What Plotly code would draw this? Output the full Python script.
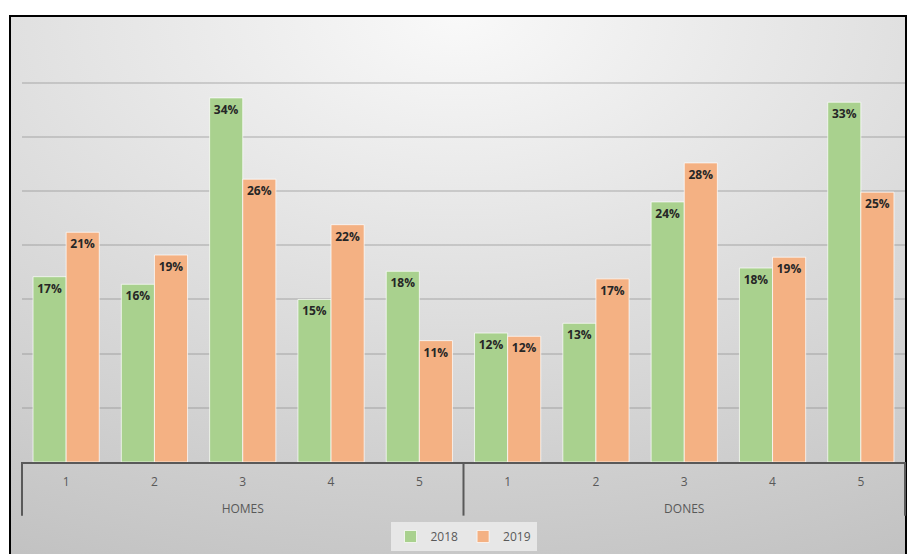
import base64
import plotly.graph_objects as go

groups = ["HOMES"] * 5 + ["DONES"] * 5
items = ["1", "2", "3", "4", "5"] * 2
share_2018 = [0.171, 0.164, 0.336, 0.150, 0.176, 0.119, 0.128, 0.240, 0.179, 0.332]
share_2019 = [0.212, 0.191, 0.261, 0.219, 0.112, 0.116, 0.169, 0.276, 0.189, 0.249]

W, H = 908, 554
ML, MR, MT, MB = 22, 3, 28, 89
pw, ph = W - ML - MR, H - MT - MB

# radial grey background like the Excel chart area
svg = ('<svg xmlns="http://www.w3.org/2000/svg" width="900" height="540" preserveAspectRatio="none">'
       '<defs><radialGradient id="g" cx="50%" cy="0%" r="110%" fx="50%" fy="0%">'
       '<stop offset="0" stop-color="#f9f9f9"/><stop offset="1" stop-color="#c2c2c2"/>'
       '</radialGradient></defs><rect width="100%" height="100%" fill="url(#g)"/></svg>')
bg_src = "data:image/svg+xml;base64," + base64.b64encode(svg.encode()).decode()

# chart-area box in paper units
bx0 = (10 - ML) / pw
bx1 = (906 - ML) / pw
by1 = (H - MB - 16) / ph
by0 = (H - MB - 566) / ph
# bracket lines under the category axis (Excel style)
dy = -54 / ph
brackets = [dict(type="line", xref="paper", yref="paper", x0=xx, x1=xx, y0=0, y1=dy,
                 line=dict(color="#595959", width=2)) for xx in (0, 0.5, 1)]

# tall invisible chars make the label box deeper so the group row sits lower
pad = "<span style='font-size:24px'>\u00a0</span>"
item_text = [pad + i + pad for i in items]

fig = go.Figure()
for name, vals, col in [("2018", share_2018, "#a9d18e"), ("2019", share_2019, "#f4b183")]:
    fig.add_trace(go.Bar(
        x=[groups, item_text], y=vals, name=name,
        marker=dict(color=col, line=dict(color="rgba(255,255,255,0.7)", width=1)),
        texttemplate="%{y:.0%}", textposition="inside", insidetextanchor="end",
        textangle=0,
        textfont=dict(family="Open Sans", size=12, color="#262626", weight="bold"),
        hoverinfo="skip",
    ))

fig.update_layout(
    width=W, height=H,
    margin=dict(l=ML, r=MR, t=MT, b=MB),
    paper_bgcolor="white", plot_bgcolor="rgba(0,0,0,0)",
    barmode="group", bargap=0.25, bargroupgap=0,
    uniformtext=dict(minsize=12, mode="show"),
    font=dict(family="Open Sans", size=12, color="#595959"),
    showlegend=True,
    legend=dict(orientation="h", x=0.5, xanchor="center", y=(H - MB - 540) / ph, yanchor="middle",
                bgcolor="rgba(236,236,236,0.85)", font=dict(size=12, color="#595959"),
                traceorder="normal"),
    images=[dict(source=bg_src, xref="paper", yref="paper", x=bx0, y=by1,
                 sizex=bx1 - bx0, sizey=by1 - by0, sizing="stretch", layer="below")],
    shapes=[dict(type="rect", xref="paper", yref="paper", x0=bx0, x1=bx1, y0=by0, y1=by1,
                 line=dict(color="black", width=2), layer="above")] + brackets,
)
fig.update_yaxes(range=[0, 0.4005], dtick=0.05, showticklabels=False,
                 gridcolor="rgba(130,130,130,0.3)", gridwidth=1.5, zeroline=False)
fig.update_xaxes(type="multicategory", range=[-0.5, 9.5], showline=True, linecolor="#595959", linewidth=2,
                 ticklabelstandoff=8, showdividers=False,
                 tickfont=dict(size=12, color="#595959"), showgrid=False)

fig.write_html("out.html", config={"displayModeBar": False},
               post_script="document.body.style.margin='0';")
